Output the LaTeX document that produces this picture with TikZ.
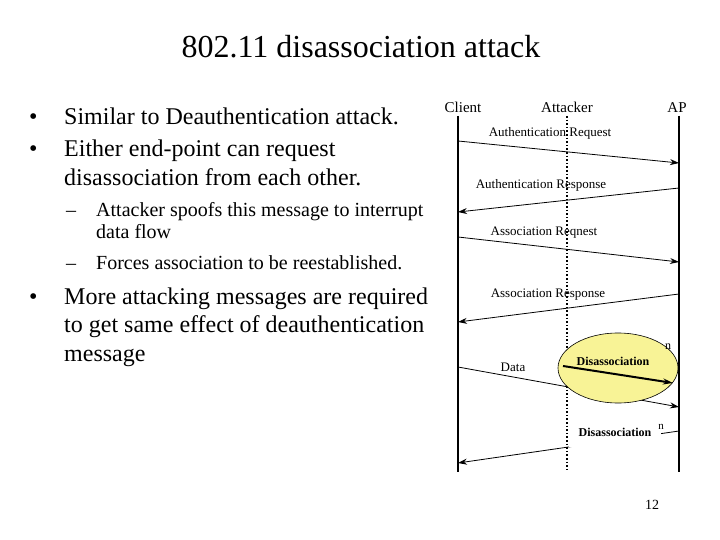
\documentclass[tikz,border=0pt]{standalone}
\usepackage{fontspec}
\setmainfont{Liberation Serif}
\usetikzlibrary{arrows.meta,shapes.geometric}
\definecolor{ellfill}{RGB}{248,243,150}
\tikzset{
  big/.style={anchor=base west,inner sep=0pt,font=\fontsize{24}{28}\selectfont},
  small/.style={anchor=base west,inner sep=0pt,font=\fontsize{20}{24}\selectfont},
  msg/.style={inner sep=0pt,font=\fontsize{13}{15}\selectfont},
  hdr/.style={inner sep=0pt,anchor=base,font=\fontsize{15}{17}\selectfont},
  life/.style={line width=1.8pt},
  msgarrow/.style={line width=0.8pt,-{Stealth[length=9pt,width=6pt]}},
}
\begin{document}
\begin{tikzpicture}[x=1pt,y=-1pt]
\useasboundingbox (0,0) rectangle (720,540);
% title
\node[inner sep=0pt,font=\fontsize{32}{36}\selectfont] (title) at (361,47) {802.11 disassociation attack};
% bullets
\node[big] (b1d) at (29,125) {•};
\node[big] (b1) at (64,125) {Similar to Deauthentication attack.};
\node[big] (b2d) at (29,157) {•};
\node[big] (b2) at (64,157) {Either end-point can request};
\node[big] (b2b) at (64,186) {disassociation from each other.};
\node[small] (s1d) at (66,216) {–};
\node[small] (s1) at (96,216) {Attacker spoofs this message to interrupt};
\node[small] (s1b) at (96,239) {data flow};
\node[small] (s2d) at (66,269) {–};
\node[small] (s2) at (96,269) {Forces association to be reestablished.};
\node[big] (b3d) at (29,304) {•};
\node[big] (b3) at (64,304) {More attacking messages are required};
\node[big] (b3b) at (64,332) {to get same effect of deauthentication};
\node[big] (b3c) at (64,361) {message};
% headers
\node[hdr] (hc) at (463,113) {Client};
\node[hdr] (ha) at (567,113) {Attacker};
\node[hdr] (hp) at (677,113) {AP};
% lifeline coordinates
\coordinate (ct) at (458,116); \coordinate (cb) at (458,472);
\coordinate (at) at (567,116); \coordinate (ab) at (567,472);
\coordinate (pt) at (679,116); \coordinate (pb) at (679,472);
\coordinate (c1) at (458,141); \coordinate (p1) at (679,163);
\coordinate (p2) at (679,188); \coordinate (c2) at (458,212);
\coordinate (c3) at (458,237); \coordinate (p3) at (679,262);
\coordinate (p4) at (679,294); \coordinate (c4) at (458,322);
\coordinate (c5) at (458,367); \coordinate (p5) at (679,407);
\coordinate (p6) at (679,431); \coordinate (c6) at (458,463);
% lifelines
\draw[life] (ct) -- (cb);
\draw[life] (pt) -- (pb);
\draw[line width=1.6pt,dotted] (at) -- (ab);
% messages
\draw[msgarrow] (c1) -- (p1);
\node[msg] (l1) at (550,133) {Authentication Request};
\draw[msgarrow] (p2) -- (c2);
\node[msg] (l2) at (541,185) {Authentication Response};
\draw[msgarrow] (c3) -- (p3);
\node[msg] (l3) at (544,233) {Association Reqnest};
\draw[msgarrow] (p4) -- (c4);
\node[msg] (l4) at (548,295) {Association Response};
\draw[msgarrow] (c5) -- (p5);
\node[msg] (l5) at (513,367) {Data};
\draw[msgarrow] (p6) -- (c6);
\node[fill=white,minimum width=92pt,minimum height=28pt,inner sep=0pt] (wb) at (615,433) {};
\node[msg,font=\bfseries\fontsize{12}{14}\selectfont] (d2) at (615,432) {Disassociation};
\node[msg,font=\fontsize{11}{12}\selectfont] (n2) at (661,427) {n};
% ellipse
\node[ellipse,draw,line width=0.6pt,fill=ellfill,minimum width=120pt,minimum height=70pt,inner sep=0pt] (ell) at (618,368) {};
\node[msg,font=\fontsize{12}{13}\selectfont] (n1) at (668,347) {n};
\node[msg,font=\bfseries\fontsize{12}{14}\selectfont] (d1) at (613,361) {Disassociation};
\coordinate (e1) at (563,366); \coordinate (e2) at (673,383);
\draw[line width=2pt,-{Stealth[length=10pt,width=6pt]}] (e1) -- (e2);
\draw[life] (pt) -- (pb);
\node[inner sep=0pt,font=\fontsize{14}{16}\selectfont] (pg) at (652,505) {12};
\end{tikzpicture}
\end{document}
